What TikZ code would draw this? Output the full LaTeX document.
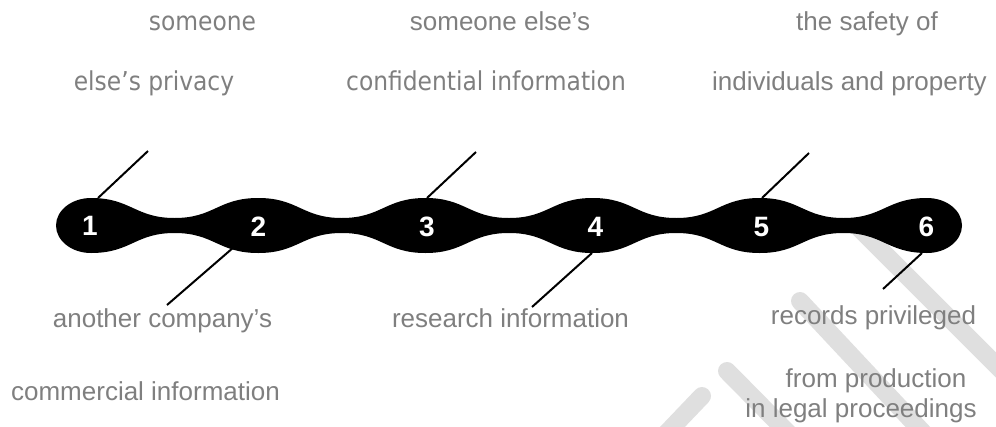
\documentclass[tikz,border=0pt]{standalone}
\usepackage{fontspec}
\setmainfont{Liberation Sans}
\newfontfamily\condfont{DejaVu Sans Condensed}
\definecolor{txtgray}{RGB}{127,127,127}
\definecolor{wmgray}{RGB}{223,223,223}
\begin{document}
\begin{tikzpicture}[x=1pt,y=-1pt,
  lbl/.style={text=txtgray,font=\fontsize{26}{30}\selectfont,anchor=base,inner sep=0pt},
  clbl/.style={lbl,font=\condfont\fontsize{26}{30}\selectfont},
  num/.style={text=white,font=\bfseries\fontsize{28}{30}\selectfont,inner sep=0pt},
  leader/.style={draw=black,line width=2pt},
  wm/.style={draw=wmgray,line width=18pt,line cap=round}]
\useasboundingbox (0,0) rectangle (996,426);
% watermark
\begin{scope}
\clip (0,0) rectangle (996,426);
\draw[wm,line cap=butt] (857,226) -- (1030,399);
\draw[wm] (800,301) -- (930,440);
\draw[wm] (727,371) -- (800,445);
\draw[wm] (702,396) -- (660,440);
\end{scope}
% band
\fill[black] (91,198)
  .. controls (131,198) and (135,218) .. (174.6,218)
  .. controls (214.2,218) and (218.2,198) .. (258.2,198)
  .. controls (298.2,198) and (302.2,218) .. (341.8,218)
  .. controls (381.4,218) and (385.4,198) .. (425.4,198)
  .. controls (465.4,198) and (469.4,218) .. (509,218)
  .. controls (548.6,218) and (552.6,198) .. (592.6,198)
  .. controls (632.6,198) and (636.6,218) .. (676.2,218)
  .. controls (715.8,218) and (719.8,198) .. (759.8,198)
  .. controls (799.8,198) and (803.8,218) .. (843.4,218)
  .. controls (883,218) and (887,198) .. (927,198)
  .. controls (946.3,198) and (962,210.3) .. (962,225.5)
  .. controls (962,240.7) and (946.3,253) .. (927,253)
  .. controls (887,253) and (883,233) .. (843.4,233)
  .. controls (803.8,233) and (799.8,253) .. (759.8,253)
  .. controls (719.8,253) and (715.8,233) .. (676.2,233)
  .. controls (636.6,233) and (632.6,253) .. (592.6,253)
  .. controls (552.6,253) and (548.6,233) .. (509,233)
  .. controls (469.4,233) and (465.4,253) .. (425.4,253)
  .. controls (385.4,253) and (381.4,233) .. (341.8,233)
  .. controls (302.2,233) and (298.2,253) .. (258.2,253)
  .. controls (218.2,253) and (214.2,233) .. (174.6,233)
  .. controls (135,233) and (131,253) .. (91,253)
  .. controls (71.7,253) and (56,240.7) .. (56,225.5)
  .. controls (56,210.3) and (71.7,198) .. (91,198) -- cycle;
% numbers
\node[num] (n1) at (90,226) {1};
\node[num] (n2) at (258.5,227) {2};
\node[num] (n3) at (427,227) {3};
\node[num] (n4) at (595.5,227) {4};
\node[num] (n5) at (761.5,227) {5};
\node[num] (n6) at (926.5,227) {6};
% leader end points
\coordinate (c1a) at (98,198);  \coordinate (c1b) at (148,151);
\coordinate (c2a) at (234,247); \coordinate (c2b) at (167,305);
\coordinate (c3a) at (427,198); \coordinate (c3b) at (476,152);
\coordinate (c4a) at (592,253); \coordinate (c4b) at (532,307);
\coordinate (c5a) at (762,198); \coordinate (c5b) at (809,153);
\coordinate (c6a) at (922,253); \coordinate (c6b) at (883,289);
\draw[leader] (c1a) -- (c1b);
\draw[leader] (c2a) -- (c2b);
\draw[leader] (c3a) -- (c3b);
\draw[leader] (c4a) -- (c4b);
\draw[leader] (c5a) -- (c5b);
\draw[leader] (c6a) -- (c6b);
% labels
\node[clbl] (t1a) at (202.5,30.7) {someone};
\node[clbl] (t1b) at (154,90.7) {else’s privacy};
\node[lbl] (t3a) at (500,30.7) {someone else’s};
\node[clbl] (t3b) at (486,90.7) {confidential information};
\node[lbl] (t5a) at (867,30) {the safety of};
\node[lbl] (t5b) at (849.5,90) {individuals and property};
\node[lbl] (b2a) at (162.5,327) {another company’s};
\node[lbl] (b2b) at (145.5,400) {commercial information};
\node[lbl] (b4) at (510.5,327) {research information};
\node[lbl] (b6a) at (873.5,324) {records privileged};
\node[lbl] (b6b) at (876,387) {from production};
\node[lbl] (b6c) at (861,417) {in legal proceedings};
\end{tikzpicture}
\end{document}
